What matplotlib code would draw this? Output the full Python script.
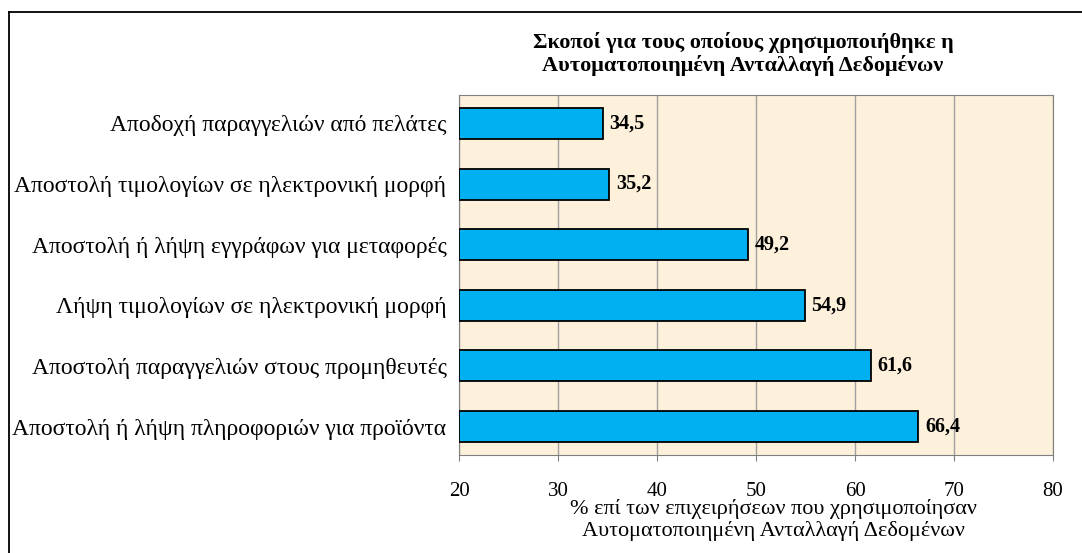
import matplotlib.pyplot as plt
from matplotlib.lines import Line2D

plt.rcParams['font.family'] = ['Liberation Serif', 'DejaVu Serif']

categories = [
    "Αποδοχή παραγγελιών από πελάτες",
    "Αποστολή τιμολογίων σε ηλεκτρονική μορφή",
    "Αποστολή ή λήψη εγγράφων για μεταφορές",
    "Λήψη τιμολογίων σε ηλεκτρονική μορφή",
    "Αποστολή παραγγελιών στους προμηθευτές",
    "Αποστολή ή λήψη πληροφοριών για προϊόντα",
]
values = [34.5, 35.2, 49.2, 54.9, 61.6, 66.4]
value_labels = ["34,5", "35,2", "49,2", "54,9", "61,6", "66,4"]
xticks = [20, 30, 40, 50, 60, 70, 80]

W, H = 1082, 553
fig = plt.figure(figsize=(W / 100, H / 100), dpi=100)
ax = fig.add_axes([459 / W, 1 - 455 / H, 594 / W, 360 / H])
ax.set_facecolor("#FDF1DC")

y = list(range(len(categories)))
ax.barh(y, [v - 20 for v in values], left=20, height=0.51,
        color="#00B0F0", edgecolor="black", linewidth=1.3, zorder=3)

for yi, v, lab in zip(y, values, value_labels):
    ax.text(v + 0.7, yi, lab, va="center", ha="left", fontsize=14.5,
            fontweight="bold", zorder=4)

ax.set_xlim(20, 80)
ax.set_ylim(5.47, -0.47)
ax.set_xticks(xticks)
ax.set_xticklabels([str(t) for t in xticks], fontsize=15)
ax.set_yticks(y)
ax.set_yticklabels(categories, fontsize=17)
ax.tick_params(axis="y", length=0, pad=9)
ax.tick_params(axis="x", length=4.5, color="#808080", pad=15)
ax.xaxis.grid(True, color="#A0A0A0", linewidth=1, zorder=1)
for s in ax.spines.values():
    s.set_color("#808080")

fig.text(743 / W, 1 - 54 / H,
         "Σκοποί για τους οποίους χρησιμοποιήθηκε η\nΑυτοματοποιημένη Ανταλλαγή Δεδομένων",
         ha="center", va="center", fontsize=16, fontweight="bold",
         linespacing=1.15)
fig.text(773 / W, 1 - 520 / H,
         "% επί των επιχειρήσεων που χρησιμοποίησαν\nΑυτοματοποιημένη Ανταλλαγή Δεδομένων",
         ha="center", va="center", fontsize=16, linespacing=1.1)

# outer chart border (top and left visible)
fig.add_artist(Line2D([9 / W, 9 / W], [0, 1 - 12 / H], color="black",
                      linewidth=1.3, transform=fig.transFigure))
fig.add_artist(Line2D([9 / W, 1], [1 - 12 / H, 1 - 12 / H], color="black",
                      linewidth=1.3, transform=fig.transFigure))

fig.savefig("out.png", dpi=100)
